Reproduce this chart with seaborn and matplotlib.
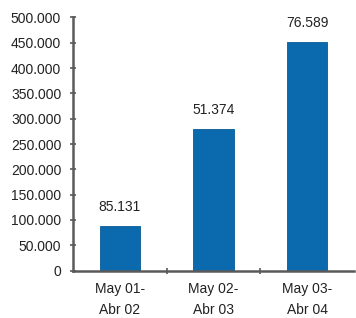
import matplotlib
matplotlib.use("Agg")
import matplotlib.pyplot as plt
import seaborn as sns
import pandas as pd
from matplotlib.ticker import FuncFormatter, FixedLocator

categories = ["May 01-\nAbr 02", "May 02-\nAbr 03", "May 03-\nAbr 04"]
values = [88000, 280000, 452000]
value_labels = ["85.131", "51.374", "76.589"]
yticks = [0, 50000, 100000, 150000, 200000, 250000, 300000, 350000, 400000, 450000, 500000]

sns.set_theme(style="white")
plt.rcParams['font.family'] = ['Liberation Sans', 'DejaVu Sans']

df = pd.DataFrame({"cat": categories, "val": values})

fig = plt.figure(figsize=(3.56, 3.18), dpi=100)
ax = fig.add_axes([0.205, 0.149, 0.789, 0.796])
sns.barplot(data=df, x="cat", y="val", ax=ax, color="#0a6aad", width=0.43,
            saturation=1, edgecolor="#0a5a95", linewidth=0.6)

ax.set_ylim(0, 500000)
ax.set_xlim(-0.5, 2.5)
ax.set_yticks(yticks)
ax.yaxis.set_major_formatter(FuncFormatter(lambda v, p: f"{int(v):,}".replace(",", ".")))
ax.set_xlabel("")
ax.set_ylabel("")

for s in ["top", "right"]:
    ax.spines[s].set_visible(False)
for s in ["left", "bottom"]:
    ax.spines[s].set_color("#5a5a5a")
    ax.spines[s].set_linewidth(1.8)

ax.tick_params(axis="y", direction="inout", length=5, width=1.2, color="#5a5a5a",
               labelsize=10, labelcolor="#222222", pad=6, left=True)
ax.tick_params(axis="x", which="major", length=0, labelsize=10, labelcolor="#222222", pad=8)
ax.xaxis.set_minor_locator(FixedLocator([0.5, 1.5]))
ax.tick_params(axis="x", which="minor", direction="inout", length=5, width=1.2,
               color="#5a5a5a", bottom=True)
for lbl in ax.get_xticklabels():
    lbl.set_linespacing(1.65)

for i, (v, t) in enumerate(zip(values, value_labels)):
    ax.annotate(t, xy=(i, v), xytext=(0, 13.5), textcoords="offset points",
                ha="center", va="center", fontsize=10, color="#222222")

fig.savefig("out.png", dpi=100)
